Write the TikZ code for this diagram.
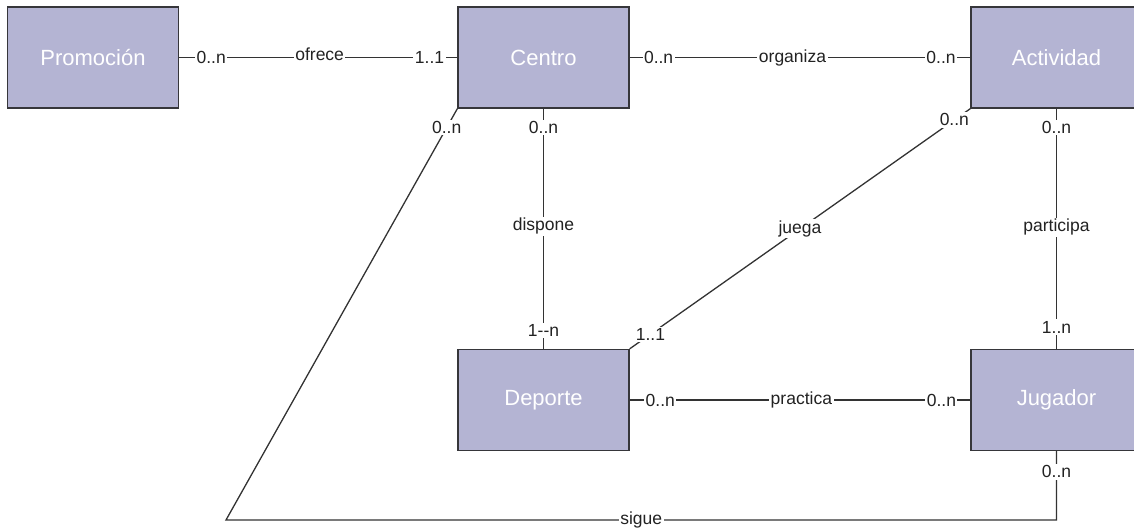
\documentclass[tikz,border=0pt]{standalone}
\usepackage{fontspec}
\setmainfont{Liberation Sans}
\definecolor{entfill}{RGB}{180,180,211}
\definecolor{entline}{RGB}{54,54,58}
\definecolor{edgeline}{RGB}{51,51,51}
\definecolor{lbltext}{RGB}{34,34,34}
\tikzset{
  entity/.style={draw=entline, line width=1.3pt, fill=entfill,
    minimum width=171pt, minimum height=101pt, inner sep=0pt,
    text=white, font=\fontsize{22}{25}\selectfont},
  rel/.style={draw=edgeline, line width=1.3pt},
  lbl/.style={fill=white, inner sep=1.5pt, text=lbltext,
    font=\fontsize{17.5}{20}\selectfont}
}
\begin{document}
\begin{tikzpicture}[x=1pt, y=-1pt]
  \useasboundingbox (0,0) rectangle (1134,527);

  % entities
  \node[entity] (prom) at (93,57.5)    {Promoción};
  \node[entity] (cent) at (543.5,57.5) {Centro};
  \node[entity] (acti) at (1056.5,57.5){Actividad};
  \node[entity] (depo) at (543.5,400)  {Deporte};
  \node[entity] (juga) at (1056.5,400) {Jugador};

  % relationships
  \draw[rel] (prom.east) -- node[lbl,pos=0.115]{0..n}
    node[lbl,pos=0.505,yshift=3pt]{ofrece}
    node[lbl,pos=0.90]{1..1} (cent.west);

  \draw[rel] (cent.east) -- node[lbl,pos=0.085]{0..n}
    node[lbl,pos=0.478]{organiza}
    node[lbl,pos=0.914]{0..n} (acti.west);

  \draw[rel] (depo.east) -- node[lbl,pos=0.09]{0..n}
    node[lbl,pos=0.504]{practica}
    node[lbl,pos=0.915]{0..n} (juga.west);

  \draw[rel] (cent.south) -- node[lbl,pos=0.079]{0..n}
    node[lbl,pos=0.49]{dispone}
    node[lbl,pos=0.925]{1-{}-n} (depo.north);

  \draw[rel] (acti.south) -- node[lbl,pos=0.079]{0..n}
    node[lbl,pos=0.494]{participa}
    node[lbl,pos=0.909]{1..n} (juga.north);

  \draw[rel] (depo.north east) -- node[lbl,pos=0.061]{1..1}
    node[lbl,pos=0.5]{juega}
    node[lbl,pos=0.953]{0..n} (acti.south west);

  % "sigue" runs below everything and climbs back to Centro
  \coordinate (sigL) at (226,520);
  \coordinate (sigR) at (juga.south |- sigL);
  \draw[rel] (juga.south) -- node[lbl,pos=0.30]{0..n} (sigR)
    -- node[lbl,pos=0.5]{sigue} (sigL)
    -- node[lbl,pos=0.954]{0..n} (cent.south west);
\end{tikzpicture}
\end{document}
